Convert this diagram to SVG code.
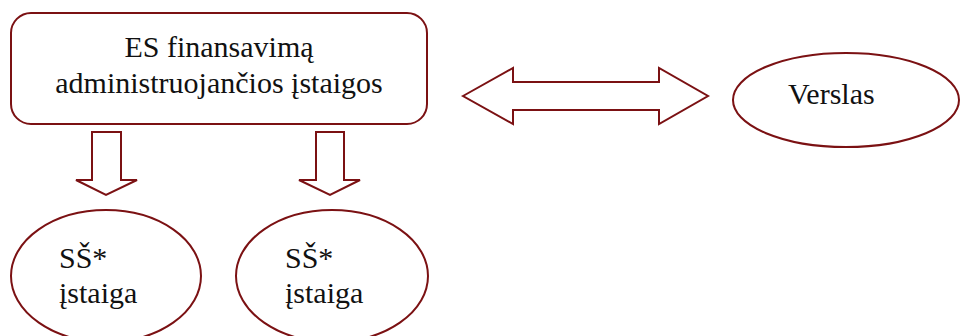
<svg xmlns="http://www.w3.org/2000/svg" width="961" height="336" viewBox="0 0 961 336">
<style>
.s{fill:#fff;stroke:#7b1113;stroke-width:2}
.t{font-family:"Liberation Serif",serif;font-size:30px;fill:#111}
</style>
<rect width="961" height="336" fill="#fff"/>
<g id="connectors">
<path class="s" d="M463,96 L513,68 L513,82 L659,82 L659,68 L708,96 L659,124 L659,110 L513,110 L513,124 Z"/>
<path class="s" d="M92,132 L121,132 L121,180 L137,180 L106,195 L76,180 L92,180 Z"/>
<path class="s" d="M316,132 L344,132 L344,180 L360,180 L330,195 L299,180 L316,180 Z"/>
</g>
<g id="n1">
<rect class="s" x="11" y="13" width="416" height="111" rx="20"/>
<text class="t" x="219" y="57" text-anchor="middle">ES finansavimą</text>
<text class="t" x="219" y="93" text-anchor="middle">administruojančios įstaigos</text>
</g>
<g id="n2">
<ellipse class="s" cx="846" cy="100" rx="113" ry="47"/>
<text class="t" x="788" y="104">Verslas</text>
</g>
<g id="n3">
<ellipse class="s" cx="106" cy="276" rx="95" ry="66"/>
<text class="t" x="59" y="268">SŠ*</text>
<text class="t" x="59" y="303">įstaiga</text>
</g>
<g id="n4">
<ellipse class="s" cx="332" cy="276" rx="96" ry="66"/>
<text class="t" x="285" y="268">SŠ*</text>
<text class="t" x="285" y="303">įstaiga</text>
</g>
</svg>
